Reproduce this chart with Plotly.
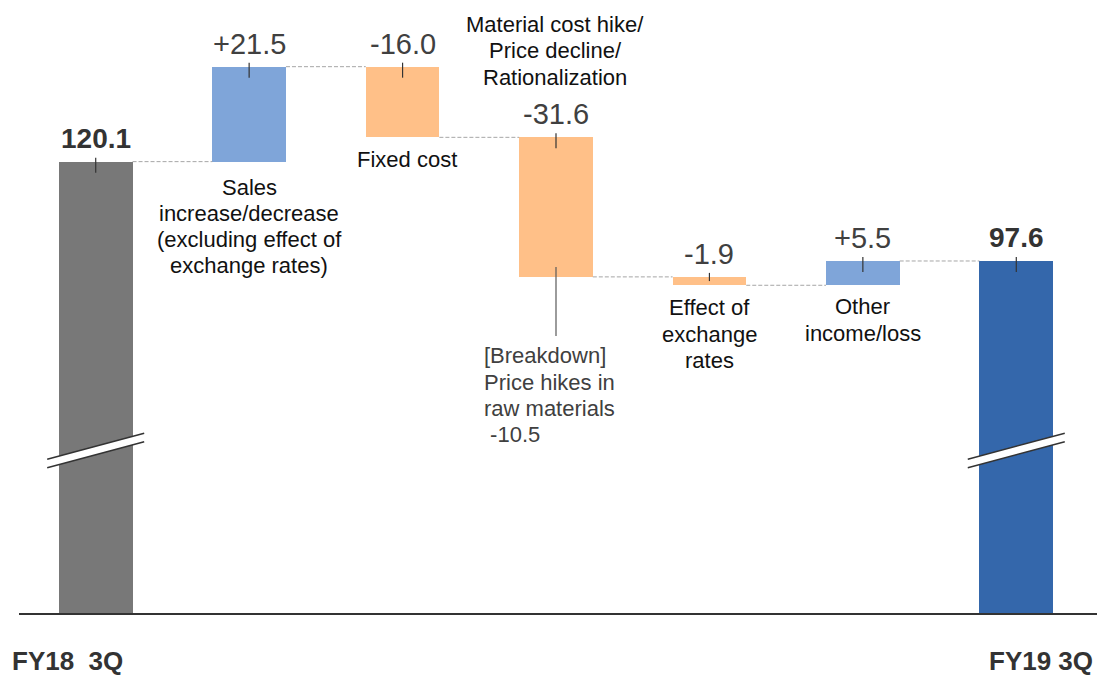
import plotly.graph_objects as go

# ---------------- data ----------------
categories = ["FY18 3Q", "Sales", "Fixed cost", "Material", "Exchange", "Other", "FY19 3Q"]
start_value = 120.1
changes = [21.5, -16.0, -31.6, -1.9, 5.5]
end_value = 97.6

period_labels = ["FY18\u00a0\u00a03Q", "FY19 3Q"]
item_labels = [
    ["Sales", "increase/decrease", "(excluding effect of", "exchange rates)"],
    ["Fixed cost"],
    ["Material cost hike/", "Price decline/", "Rationalization"],
    ["Effect of", "exchange", "rates"],
    ["Other", "income/loss"],
]
breakdown_lines = ["[Breakdown]", "Price hikes in", "raw materials"]
breakdown_value = -10.5

# ---------------- styling ----------------
FONT = "Liberation Sans, Arial, sans-serif"
COL_START = "#787878"
COL_END = "#3467AB"
COL_UP = "#7FA5D9"
COL_DOWN = "#FFC088"
COL_VALUE = "#404040"
COL_LABEL = "#111111"
COL_AXIS = "#333333"

W, H = 1097, 675
M_L, M_R, M_T, M_B = 19, 4, 0, 61
Y_MIN, Y_MAX = 17.66, 156.70          # value axis is broken: bars start from 0
BAR_W = 0.48
BREAK_AT = 54.7
PITCH = 26.3                           # line pitch for multi-line labels (px)
px_per_unit = (H - M_T - M_B) / (Y_MAX - Y_MIN)

# ---------------- derived bar geometry ----------------
levels = [start_value]
for c in changes:
    levels.append(round(levels[-1] + c, 1))

bases = [0] + [min(levels[i], levels[i + 1]) for i in range(len(changes))] + [0]
heights = [start_value] + [abs(c) for c in changes] + [end_value]
tops = [start_value] + [max(levels[i], levels[i + 1]) for i in range(len(changes))] + [end_value]
bottoms = [None] + [min(levels[i], levels[i + 1]) for i in range(len(changes))] + [None]
colors = [COL_START] + [COL_UP if c > 0 else COL_DOWN for c in changes] + [COL_END]
value_text = [f"{start_value:.1f}"] + [f"{c:+.1f}" for c in changes] + [f"{end_value:.1f}"]
xs = list(range(len(categories)))

fig = go.Figure()
fig.add_trace(go.Bar(
    x=xs, y=heights, base=bases, width=BAR_W,
    marker=dict(color=colors, line=dict(width=0)),
    hoverinfo="skip", showlegend=False,
))

shapes = []
annotations = []

# dashed connectors between neighbouring bars
for i, lvl in enumerate(levels):
    shapes.append(dict(
        type="line", xref="x", yref="y",
        x0=i + BAR_W / 2, x1=i + 1 - BAR_W / 2, y0=lvl, y1=lvl,
        line=dict(color="#A6A6A6", width=1, dash="4px,2px"), layer="above",
    ))

# small value ticks at the top centre of each bar
for i, (top, h) in enumerate(zip(tops, heights)):
    depth = min(11, h * px_per_unit / 2)
    shapes.append(dict(
        type="line", xref="x", yref="y",
        xsizemode="pixel", xanchor=i, x0=0, x1=0,
        ysizemode="pixel", yanchor=top, y0=4, y1=-depth,
        line=dict(color="#333333", width=1.2), layer="above",
    ))

# axis-break marks on the two total bars
for i in (0, len(categories) - 1):
    shapes.append(dict(
        type="path", xref="x", yref="y",
        xsizemode="pixel", xanchor=i, ysizemode="pixel", yanchor=BREAK_AT,
        path="M -48.5,-8.75 L 48.5,17.25 L 48.5,8.75 L -48.5,-17.25 Z",
        fillcolor="white", line=dict(width=0), layer="above",
    ))
    for y_left, y_right in ((-8.75, 17.25), (-17.25, 8.75)):
        shapes.append(dict(
            type="path", xref="x", yref="y",
            xsizemode="pixel", xanchor=i, ysizemode="pixel", yanchor=BREAK_AT,
            path=f"M -48.5,{y_left} L 48.5,{y_right}",
            line=dict(color="#333333", width=1.5), layer="above",
        ))

# leader line from the material-cost bar down to its breakdown note
shapes.append(dict(
    type="line", xref="x", yref="y",
    xsizemode="pixel", xanchor=3, x0=0, x1=0,
    ysizemode="pixel", yanchor=bottoms[3], y0=10, y1=-59,
    line=dict(color="#595959", width=1.2), layer="above",
))

# baseline
shapes.append(dict(
    type="line", xref="paper", yref="paper",
    x0=0, x1=(W - M_L) / (W - M_L - M_R), y0=0, y1=0,
    line=dict(color=COL_AXIS, width=2), layer="above",
))

# value labels above each bar
for i, (top, txt) in enumerate(zip(tops, value_text)):
    total = i in (0, len(categories) - 1)
    annotations.append(dict(
        x=i, y=top, xref="x", yref="y", text=txt, showarrow=False,
        yanchor="middle", xanchor="center", yshift=23,
        font=dict(family=FONT, size=28 if total else 29,
                  color="#333333" if total else COL_VALUE,
                  weight="bold" if total else "normal"),
    ))


def add_lines(lines, x, y, first_shift, xanchor="center", xshift=0, color=COL_LABEL):
    """Stack text lines downward; the first line sits first_shift px from y."""
    for k, line in enumerate(lines):
        annotations.append(dict(
            x=x, y=y, xref="x", yref="y", text=line, showarrow=False,
            xanchor=xanchor, yanchor="middle", xshift=xshift,
            yshift=first_shift - k * PITCH,
            font=dict(family=FONT, size=22, color=color),
        ))


# item labels: below the bar, except the material block which sits above
add_lines(item_labels[0], 1, bottoms[1], -25.4)
add_lines(item_labels[1], 2, bottoms[2], -21.7, xshift=4)
add_lines(item_labels[2], 3, tops[3], 112.7, xshift=-1)
add_lines(item_labels[3], 4, bottoms[4], -22.7)
add_lines(item_labels[4], 5, bottoms[5], -21.7)

# breakdown note under the material-cost bar
add_lines(breakdown_lines + ["\u00a0" + f"{breakdown_value:.1f}"], 3, bottoms[3], -79,
          xanchor="left", xshift=-74, color=COL_VALUE)

# period labels under the axis
annotations.append(dict(
    x=0, y=0, xref="x", yref="paper", text=period_labels[0], showarrow=False,
    xanchor="left", yanchor="middle", xshift=-86, yshift=-47,
    font=dict(family=FONT, size=26, color="#333333", weight="bold"),
))
annotations.append(dict(
    x=len(categories) - 1, y=0, xref="x", yref="paper", text=period_labels[1], showarrow=False,
    xanchor="right", yanchor="middle", xshift=79, yshift=-47,
    font=dict(family=FONT, size=26, color="#333333", weight="bold"),
))

fig.update_layout(
    width=W, height=H,
    margin=dict(l=M_L, r=M_R, t=M_T, b=M_B, pad=0),
    paper_bgcolor="white", plot_bgcolor="white",
    xaxis=dict(range=[-0.5, len(categories) - 0.5], visible=False, fixedrange=True),
    yaxis=dict(range=[Y_MIN, Y_MAX], visible=False, fixedrange=True),
    shapes=shapes, annotations=annotations,
    bargap=0, showlegend=False,
)

fig.write_html("out.html")
